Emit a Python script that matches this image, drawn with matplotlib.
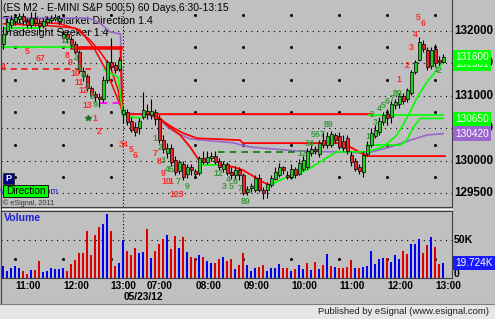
import matplotlib

matplotlib.use("Agg")
import matplotlib.pyplot as plt
import matplotlib.transforms as mtransforms
from matplotlib.patches import Rectangle

plt.rcParams["font.family"] = ["Liberation Sans", "DejaVu Sans"]

# ---- data (5-min bars, bar index 0 = 10:30 on day 1) ----
opens = [131800, 132000, 132100, 132150, 132180, 132230, 132160, 132100, 132200, 132130,
         132080, 132140, 132170, 132180, 132150, 131900, 131950, 131870, 131800, 131680,
         131380, 131300, 131120, 131030, 130990, 130950, 131250, 131520, 131480, 131420,
         130720, 130760, 130620, 130520, 130500, 130680, 130770, 130700, 130760, 130650,
         130330, 130120, 130200, 130020, 129850, 129960, 129800, 129900, 129840, 129820,
         130050, 129990, 130040, 130080, 130000, 129870, 129950, 129830, 129780, 129860,
         129790, 129530, 129580, 129560, 129740, 129560, 129550, 129630, 129730, 129790,
         129900, 129790, 129760, 129880, 129800, 129870, 129900, 130120, 130190, 130100,
         130330, 130250, 130250, 130400, 130380, 130300, 130350, 130090, 130000, 129900,
         129830, 130100, 130250, 130380, 130440, 130600, 130730, 130680, 130860, 130880,
         131000, 130950, 131050, 131370, 131560, 131800, 131710, 131460, 131720, 131560,
         131530]
highs = [132080, 132200, 132250, 132260, 132280, 132270, 132200, 132300, 132290, 132180,
         132200, 132230, 132250, 132260, 132240, 132020, 132000, 131920, 131850, 131700,
         131450, 131340, 131160, 131080, 131050, 131300, 131560, 131890, 131530, 131600,
         130850, 130800, 130680, 130600, 130660, 131060, 130880, 130960, 130800, 130700,
         130400, 130280, 130260, 130080, 130020, 130000, 129960, 129950, 129880, 130080,
         130160, 130150, 130140, 130150, 130050, 130000, 129990, 129900, 129920, 129900,
         129820, 129620, 129660, 129780, 129800, 129600, 129680, 129780, 129900, 129970,
         129930, 129840, 129950, 129900, 130030, 130080, 130200, 130250, 130230, 130330,
         130450, 130440, 130460, 130430, 130440, 130400, 130400, 130150, 130040, 129950,
         130150, 130300, 130500, 130550, 130680, 130760, 130800, 130920, 130960, 131050,
         131040, 131120, 131400, 131560, 131910, 131860, 131760, 131760, 131800, 131620,
         131640]
lows = [131720, 131960, 132050, 132100, 132130, 132100, 132040, 132050, 132080, 132000,
        132040, 132100, 132130, 132150, 132100, 131850, 131820, 131720, 131640, 131350,
        131230, 131080, 130980, 130900, 130830, 130900, 131200, 131400, 131350, 131380,
        130580, 130560, 130440, 130380, 130420, 130640, 130650, 130640, 130560, 130280,
        130120, 130050, 129920, 129780, 129800, 129700, 129740, 129780, 129740, 129790,
        129950, 129960, 130000, 129960, 129860, 129830, 129780, 129730, 129720, 129700,
        129470, 129480, 129520, 129520, 129520, 129420, 129430, 129600, 129700, 129760,
        129800, 129720, 129720, 129740, 129780, 129850, 129880, 130080, 130100, 130060,
        130200, 130200, 130220, 130280, 130180, 130150, 130100, 129930, 129840, 129800,
        129750, 130080, 130220, 130350, 130400, 130550, 130550, 130580, 130800, 130820,
        130880, 130900, 131020, 131340, 131540, 131680, 131400, 131420, 131450, 131480,
        131500]
closes = [131950, 132140, 132180, 132220, 132230, 132150, 132100, 132200, 132120, 132080,
          132150, 132180, 132200, 132220, 132200, 131960, 131870, 131780, 131680, 131380,
          131300, 131120, 131020, 130990, 130950, 131250, 131520, 131450, 131400, 131550,
          130790, 130600, 130470, 130450, 130620, 130790, 130720, 130770, 130640, 130320,
          130190, 130200, 129980, 129830, 129980, 129760, 129900, 129860, 129800, 130050,
          129990, 130060, 130080, 129990, 129900, 129950, 129820, 129780, 129860, 129780,
          129510, 129570, 129620, 129740, 129560, 129500, 129640, 129740, 129830, 129900,
          129860, 129760, 129880, 129790, 129970, 130020, 130160, 130180, 130150, 130280,
          130250, 130380, 130420, 130330, 130210, 130200, 130150, 129980, 129880, 129840,
          130090, 130250, 130430, 130480, 130620, 130700, 130660, 130880, 130910, 131000,
          130920, 131090, 131370, 131520, 131830, 131720, 131450, 131700, 131500, 131530,
          131600]

volume_k = [15.8, 9.6, 12.7, 15.8, 12.7, 9.6, 5.3, 10.5, 10.5, 22.4,
            8.3, 9.6, 12.7, 11.8, 11.8, 12.7, 9.6, 18.4, 23.7, 33.3,
            33.3, 62.3, 30.3, 56.6, 67.6, 71.1, 84.2, 62.3, 15.8, 20.2,
            50.0, 36.0, 30.3, 39.0, 33.3, 34.7, 64.0, 25.9, 36.0, 44.3,
            50.9, 56.6, 37.7, 55.3, 39.0, 53.5, 33.8, 27.2, 25.9, 30.3,
            27.2, 22.4, 19.3, 19.3, 25.0, 28.1, 22.4, 24.6, 11.4, 17.1,
            33.3, 17.1, 9.6, 12.7, 14.9, 17.1, 9.6, 12.7, 12.7, 18.0,
            12.7, 12.7, 9.6, 11.4, 17.1, 11.4, 20.2, 10.5, 21.1, 11.4,
            17.1, 31.6, 15.8, 14.9, 12.7, 12.7, 14.9, 23.7, 12.7, 13.6,
            14.9, 15.8, 36.0, 18.0, 24.6, 25.9, 25.9, 21.5, 30.3, 24.6,
            36.0, 31.2, 44.7, 44.7, 50.9, 32.5, 43.4, 54.4, 41.2, 18.4,
            19.724]
# B = blue (up) volume bar, R = red (down)
volume_dir = list("BBBBBRRBRRBBBBBBRRRRRRRRRBBRRBBRRRBBRBRRRBRRBRBRRBRBBRRBRRBRRBBBRRBBBBRRBRBBRBRBRBRBRRRRBRBBBBBBRBBBRRBBBRRBRRB")

# indicator lines (bar index, price)
purple_x = [-0.8, 21.2, 24.2, 26.7, 29.3, 29.7, 36.7, 39.2, 41.2, 43.4, 46.7, 51.7, 57.4, 61.7,
            74.2, 84.2, 90.9, 96.7, 101.7, 105.9, 109.9]
purple_p = [132200, 132200, 132120, 131985, 131955, 130740, 130710, 130630, 130520, 130430,
            130340, 130310, 130280, 130215, 130150, 130140, 130120, 130215, 130320, 130400, 130420]
red_a_x = [0.0, 11.7, 17.9, 21.7, 24.2, 26.7, 28.7, 29.7]
red_a_p = [132110, 132080, 132045, 131860, 131680, 131460, 131090, 130740]
red_b_x = [9.2, 14.2, 19.2, 22.9, 25.4, 27.2, 29.2]
red_b_p = [132140, 132110, 132015, 131710, 131430, 131170, 130860]
red_top_x = [17.2, 29.3, 29.8, 92.0]
red_top_p = [131740, 131740, 130720, 130720]
red_slow_x = [37.9, 42.2, 44.9, 48.4, 59.2, 59.9, 84.9, 90.9, 110.4]
red_slow_p = [130690, 130520, 130430, 130350, 130320, 130275, 130275, 130075, 130075]
red_fast1_x = [36.7, 39.2, 40.9, 44.2, 46.7, 49.2]
red_fast1_p = [130710, 130660, 130550, 130400, 130215, 129985]
red_fast2_x = [53.7, 57.4, 59.9, 62.4, 64.7, 66.7]
red_fast2_p = [129940, 129910, 129860, 129770, 129680, 129630]
green_day1_x = [-0.8, 17.2]
green_day1_p = [131750, 131750]
green_short_x = [0.4, 9.2]
green_short_p = [132045, 132045]
green_drop_x = [25.2, 27.2, 28.7, 29.4, 29.9, 31.7, 34.2]
green_drop_p = [131400, 131340, 131290, 130940, 130710, 130680, 130660]
green_flat_x = [49.2, 53.7]
green_flat_p = [129940, 129940]
green_up_x = [66.7, 70.9, 75.9, 79.9, 83.4, 90.9, 94.9, 98.4, 100.9, 103.4, 105.9, 108.4, 109.9]
green_up_p = [129630, 129755, 129860, 130015, 130140, 130140, 130215, 130400, 130660, 130970,
              131215, 131400, 131525]
green_step_x = [90.9, 99.2, 100.9, 102.4, 104.2, 109.9]
green_step_p = [130245, 130245, 130320, 130510, 130655, 130655]
green_top_x = [91.5, 110.0]
green_top_p = [130712, 130712]
red_dash_x = [-0.8, 22.0]
red_dash_p = [131410, 131410]
mag_dash_x = [24.2, 29.2]
mag_dash_p = [130890, 130890]
dgreen_dash_x = [53.7, 73.4]
dgreen_dash_p = [130140, 130140]

# Seeker counts
red_lbl_x = [5.9, 9.4, 0.0, 15.9, 16.7, 17.9, 18.9, 19.9, 20.9, 22.9, 23.9, 30.2, 31.9, 32.9,
             37.9, 38.9, 39.9, 40.7, 41.9, 43.4, 98.9, 100.9, 101.9, 102.9, 103.7, 104.9]
red_lbl_p = [131677, 131570, 131460, 131630, 131510, 131340, 131215, 131090, 130860, 130660,
             130460, 130250, 130170, 130090, 130120, 129985, 129815, 129680, 129690, 129490,
             131260, 131475, 131740, 131940, 132215, 132120]
red_lbl_t = ["5", "67", "4", "8", "9", "10", "11", "12", "13", "1", "2", "34", "5", "6",
             "7", "8", "9", "10", "1", "123", "1", "2", "3", "4", "5", "6"]
grn_lbl_x = [15.4, 17.2, 18.2, 18.9, 19.9, 20.9, 22.2, 22.9, 37.9, 39.2, 39.9, 41.7, 43.7,
             45.9, 53.7, 55.2, 56.2, 56.9, 57.9, 59.2, 60.7, 74.7, 76.7, 78.7, 81.4, 91.2,
             92.2, 92.9, 94.0, 95.0, 96.0, 97.2, 98.7, 108.2, 108.9]
grn_lbl_p = [131860, 131740, 131570, 131430, 131310, 131125, 130985, 130875, 130340, 130200,
             130015, 129875, 129690, 129600, 129815, 129600, 129720, 129600, 129680, 129570,
             129370, 130120, 130275, 130400, 130555, 130370, 130720, 130585, 130815, 130860,
             130910, 130955, 131045, 131415, 131385]
grn_lbl_t = ["12", "3", "4", "5", "6", "7", "8", "9", "1", "2", "3", "45", "7", "9", "12",
             "3", "4", "5", "6", "7", "89", "12", "34", "567", "89", "1", "2", "3", "4", "5",
             "6", "7", "89", "1", "2"]

price_grid = [132000, 131500, 131000, 130500, 130000, 129500]
price_mid = [132250, 131750, 131250, 130750, 130250, 129750]
quarter_bars = [3, 15, 27, 48, 60, 72, 84, 96, 108]
tick_bars = [6.2, 18.2, 30.0, 39.0, 51.2, 63.2, 75.2, 87.2, 99.2, 111.2]
tick_labels = ["11:00", "12:00", "13:00", "07:00", "08:00", "09:00", "10:00", "11:00", "12:00", "13:00"]
day_sep_bar = 29.9

W, H = 495, 319
BG = "#c0c0c0"
EDGE = "#404040"


def frac_rect(x0, y0, x1, y1):
    return [x0 / W, 1 - y1 / H, (x1 - x0) / W, (y1 - y0) / H]


fig = plt.figure(figsize=(W / 100, H / 100), dpi=100, facecolor=BG)
ax = fig.add_axes(frac_rect(1, 0, 452, 207), facecolor=BG)
axv = fig.add_axes(frac_rect(1, 211, 452, 278), facecolor=BG)

xl = (-0.58, 112.17)
ax.set_xlim(*xl)
ax.set_ylim(129292, 132477)
axv.set_xlim(*xl)
axv.set_ylim(0, 88.2)

for a in (ax, axv):
    a.set_xticks([])
    a.set_yticks([])
    for s in a.spines.values():
        s.set_color(EDGE)
        s.set_linewidth(0.8)
ax.spines["top"].set_visible(False)

# grid
for p in price_grid:
    ax.axhline(p, color="black", lw=0.8, ls=(0, (1, 4)), zorder=0.5)
axv.axhline(50, color="black", lw=0.8, ls=(0, (1, 4)), zorder=0.5)
for b in quarter_bars:
    ax.plot([b] * len(price_mid), price_mid, ls="none", marker="s", ms=1.0, color="black", zorder=0.5)
    axv.plot([b], [25], ls="none", marker="s", ms=1.0, color="black", zorder=0.5)
ax.axvline(day_sep_bar, color="black", lw=0.8, ls=(0, (1, 2)), zorder=0.5)
axv.axvline(day_sep_bar, color="black", lw=0.8, ls=(0, (1, 2)), zorder=0.5)

# study titles (drawn under the price data)
ax.text(2 / 451, 1 - 8 / 207, "(ES M2 - E-MINI S&P 500,5) 60 Days,6:30-13:15", transform=ax.transAxes,
        fontsize=7.5, color="black", va="center", ha="left", zorder=1)
ax.text(2 / 451, 1 - 21 / 207, "Tradesight Market Direction 1.4", transform=ax.transAxes,
        fontsize=7.7, color="black", va="center", ha="left", zorder=1)
ax.text(2 / 451, 1 - 33 / 207, "Tradesight Seeker 1.4", transform=ax.transAxes,
        fontsize=7.7, color="black", va="center", ha="left", zorder=1)

# indicator lines
ax.plot(purple_x, purple_p, color="#9966cc", lw=1.2, zorder=2)
ax.plot(red_a_x, red_a_p, color="#ff0000", lw=1.1, zorder=2.1)
ax.plot(red_b_x, red_b_p, color="#ff0000", lw=1.1, zorder=2.1)
ax.plot(red_top_x, red_top_p, color="#ff0000", lw=1.4, zorder=2.1)
ax.plot(red_top_x[:2], red_top_p[:2], color="#ff0000", lw=2.6, zorder=2.1)
ax.plot(red_slow_x, red_slow_p, color="#ff0000", lw=1.3, zorder=2.1)
ax.plot(red_fast1_x, red_fast1_p, color="#ff0000", lw=1.3, zorder=2.1)
ax.plot(red_fast2_x, red_fast2_p, color="#ff0000", lw=1.3, zorder=2.1)
for gx, gp in [(green_day1_x, green_day1_p), (green_short_x, green_short_p), (green_drop_x, green_drop_p),
               (green_flat_x, green_flat_p), (green_up_x, green_up_p), (green_step_x, green_step_p),
               (green_top_x, green_top_p)]:
    ax.plot(gx, gp, color="#00ff00", lw=1.2, zorder=2.2)
ax.plot(red_dash_x, red_dash_p, color="#ff0000", lw=1.1, ls=(0, (4, 3)), zorder=2.1)
ax.plot(mag_dash_x, mag_dash_p, color="#ff00ff", lw=1.3, ls=(0, (4, 3)), zorder=2.1)
ax.plot(dgreen_dash_x, dgreen_dash_p, color="#008000", lw=1.2, ls=(0, (4, 3)), zorder=2.1)

# candles
bars = list(range(len(closes)))
ax.vlines(bars, lows, highs, color="black", lw=0.8, zorder=3)
bodies = [max(abs(c - o), 12) for o, c in zip(opens, closes)]
body_lo = [min(o, c) for o, c in zip(opens, closes)]
body_col = ["#22cc22" if c >= o else "#ee2222" for o, c in zip(opens, closes)]
ax.bar(bars, bodies, bottom=body_lo, width=0.62, color=body_col, edgecolor="black", lw=0.5, zorder=3.1)

# seeker counts
for x, p, t in zip(red_lbl_x, red_lbl_p, red_lbl_t):
    ax.text(x, p, t, color="#ff2a2a", fontsize=6.3, fontweight="bold", ha="center", va="center", zorder=4)
for x, p, t in zip(grn_lbl_x, grn_lbl_p, grn_lbl_t):
    ax.text(x, p, t, color="#3a9a3a", fontsize=6.3, fontweight="bold", ha="center", va="center", zorder=4)
ax.plot([21.2], [130660], ls="none", marker="*", ms=4, color="#207020", zorder=4)

# volume
vol_col = ["#0000ee" if d == "B" else "#dd0000" for d in volume_dir]
axv.vlines(bars, 0, volume_k, colors=vol_col, lw=1.1, antialiased=False, zorder=2)

# right scale
tr_p = mtransforms.blended_transform_factory(fig.transFigure, ax.transData)
tr_v = mtransforms.blended_transform_factory(fig.transFigure, axv.transData)
for p in price_grid:
    ax.text(454 / W, p, f"{p}", transform=tr_p, fontsize=8.4, fontweight="bold", va="center",
            ha="left", clip_on=False, zorder=5)
ax.text(455 / W, 131490, "131581", transform=tr_p, fontsize=7.2, color="#e8ffe8", va="center", ha="left",
        clip_on=False, zorder=5.5, bbox=dict(boxstyle="square,pad=0.22", fc="#00ff00", ec="none"))
for p, fc in [(131600, "#00ff00"), (130650, "#00ff00"), (130420, "#9966cc")]:
    ax.text(455 / W, p, f"{p}", transform=tr_p, fontsize=7.2, color="white", va="center", ha="left",
            clip_on=False, zorder=6, bbox=dict(boxstyle="square,pad=0.22", fc=fc, ec="none"))
axv.text(454 / W, 50, "50K", transform=tr_v, fontsize=7.6, fontweight="bold", va="center", ha="left",
         clip_on=False)
axv.text(454 / W, 5, "0", transform=tr_v, fontsize=7.6, fontweight="bold", va="center", ha="left",
         clip_on=False)
axv.text(455 / W, volume_k[-1], f"{volume_k[-1]:.3f}K", transform=tr_v, fontsize=7.2, color="white",
         va="center", ha="left", clip_on=False, zorder=6,
         bbox=dict(boxstyle="square,pad=0.22", fc="#1a1aff", ec="none"))

# time axis
axv.set_xticks(tick_bars)
axv.set_xticklabels(tick_labels, fontsize=7.3, fontweight="bold")
axv.tick_params(axis="x", length=0, pad=2.5)
tr_d = mtransforms.blended_transform_factory(axv.transData, fig.transFigure)
fig.text(35.0, 1 - 297 / H, "05/23/12", transform=tr_d, fontsize=7.3, fontweight="bold", ha="center",
         va="center")
fig.text(4 / W, 1 - 218 / H, "Volume", fontsize=7.6, fontweight="bold", color="#2020dd", va="center")

# chart widgets
fig.text(58 / W, 1 - 191 / H, "www.esignal.com", fontsize=6.6, color="#2020cc", ha="right", va="center",
         zorder=2)
fig.patches.append(Rectangle((3 / W, 1 - 184 / H), 11 / W, 11 / H, transform=fig.transFigure,
                             fc="#000080", ec="#202020", lw=0.5, zorder=3))
fig.text(8.5 / W, 1 - 178.5 / H, "P", fontsize=6.5, fontweight="bold", color="white", ha="center",
         va="center", zorder=4)
fig.patches.append(Rectangle((3 / W, 1 - 197 / H), 45 / W, 12 / H, transform=fig.transFigure,
                             fc="#00ff00", ec="black", lw=0.6, zorder=3))
fig.text(25.5 / W, 1 - 191 / H, "Direction", fontsize=7.2, color="black", ha="center", va="center", zorder=4)
fig.text(3 / W, 1 - 203 / H, "© eSignal, 2011", fontsize=5.2, color="#303030", va="center")

# frame pieces
fig.add_artist(plt.Line2D([0, 452 / W], [1 - 209 / H] * 2, transform=fig.transFigure, color="white", lw=0.8))
fig.add_artist(plt.Line2D([0.5 / W] * 2, [1 - 303 / H, 1], transform=fig.transFigure, color=EDGE, lw=0.8))
fig.patches.append(Rectangle((0, 0), 1, 15 / H, transform=fig.transFigure, fc="#e6e6e6", ec="none", zorder=0))
fig.add_artist(plt.Line2D([0, 1], [1 - 303.5 / H] * 2, transform=fig.transFigure, color="#808080", lw=0.8))
fig.text(489 / W, 1 - 312 / H, "Published by eSignal (www.esignal.com)", fontsize=6.8, color="#202020",
         ha="right", va="center")

fig.savefig("out.png", dpi=100, facecolor=BG)
